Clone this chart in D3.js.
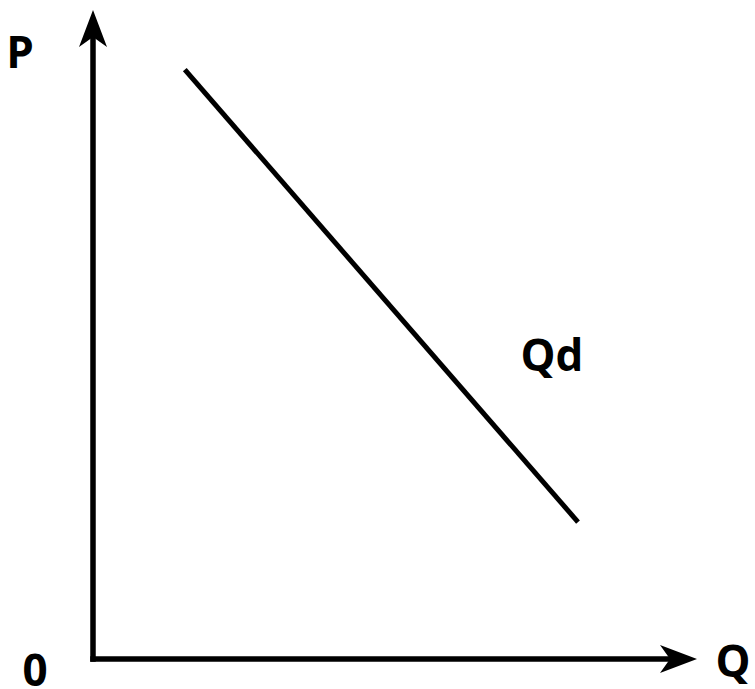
<!DOCTYPE html>
<html>
<head>
<meta charset="utf-8">
<script src="https://cdn.jsdelivr.net/npm/d3@7"></script>
<style>
  html, body { margin: 0; padding: 0; background: #fff; }
  svg { display: block; }
  text { font-family: "Open Sans", "DejaVu Sans", sans-serif; font-weight: bold; fill: #000; }
</style>
</head>
<body>
<svg id="chart" width="755" height="689"></svg>
<script>
// Data
const demandQ = [1.52, 8.03];
const demandP = [9.08, 2.11];
const curveLabel = "Qd";
const xAxisLabel = "Q";
const yAxisLabel = "P";
const originLabel = "0";

const W = 755, H = 689;
const svg = d3.select("#chart");

const x = d3.scaleLinear().domain([0, 10]).range([93, 697]);
const y = d3.scaleLinear().domain([0, 10]).range([659, 10]);

const axisW = 5.5;
const headLen = 37, headHalf = 14, notch = 10;

// Y axis shaft
svg.append("line")
  .attr("x1", x(0)).attr("y1", y(0) + axisW / 2)
  .attr("x2", x(0)).attr("y2", y(10) + headLen - notch)
  .attr("stroke", "#000").attr("stroke-width", axisW);
// Y arrow head
svg.append("path")
  .attr("d", d3.line()([
    [x(0), y(10)],
    [x(0) + headHalf, y(10) + headLen],
    [x(0), y(10) + headLen - notch],
    [x(0) - headHalf, y(10) + headLen]
  ]) + "Z")
  .attr("fill", "#000");

// X axis shaft
svg.append("line")
  .attr("x1", x(0) - axisW / 2).attr("y1", y(0))
  .attr("x2", x(10) - headLen + notch).attr("y2", y(0))
  .attr("stroke", "#000").attr("stroke-width", axisW);
// X arrow head
svg.append("path")
  .attr("d", d3.line()([
    [x(10), y(0)],
    [x(10) - headLen, y(0) - headHalf],
    [x(10) - headLen + notch, y(0)],
    [x(10) - headLen, y(0) + headHalf]
  ]) + "Z")
  .attr("fill", "#000");

// Demand line
const pts = demandQ.map((q, i) => [q, demandP[i]]);
svg.append("path")
  .datum(pts)
  .attr("d", d3.line().x(d => x(d[0])).y(d => y(d[1])))
  .attr("fill", "none")
  .attr("stroke", "#000")
  .attr("stroke-width", 5);

// Labels
const fs = 44;
svg.append("text").attr("x", 20).attr("y", 68).attr("text-anchor", "middle")
  .attr("font-size", fs).text(yAxisLabel);
svg.append("text").attr("x", 35).attr("y", 686).attr("text-anchor", "middle")
  .attr("font-size", fs).text(originLabel);
svg.append("text").attr("x", 733).attr("y", 677).attr("text-anchor", "middle")
  .attr("font-size", fs).text(xAxisLabel);
svg.append("text").attr("x", 552).attr("y", 371).attr("text-anchor", "middle")
  .attr("font-size", fs).text(curveLabel);
</script>
</body>
</html>
